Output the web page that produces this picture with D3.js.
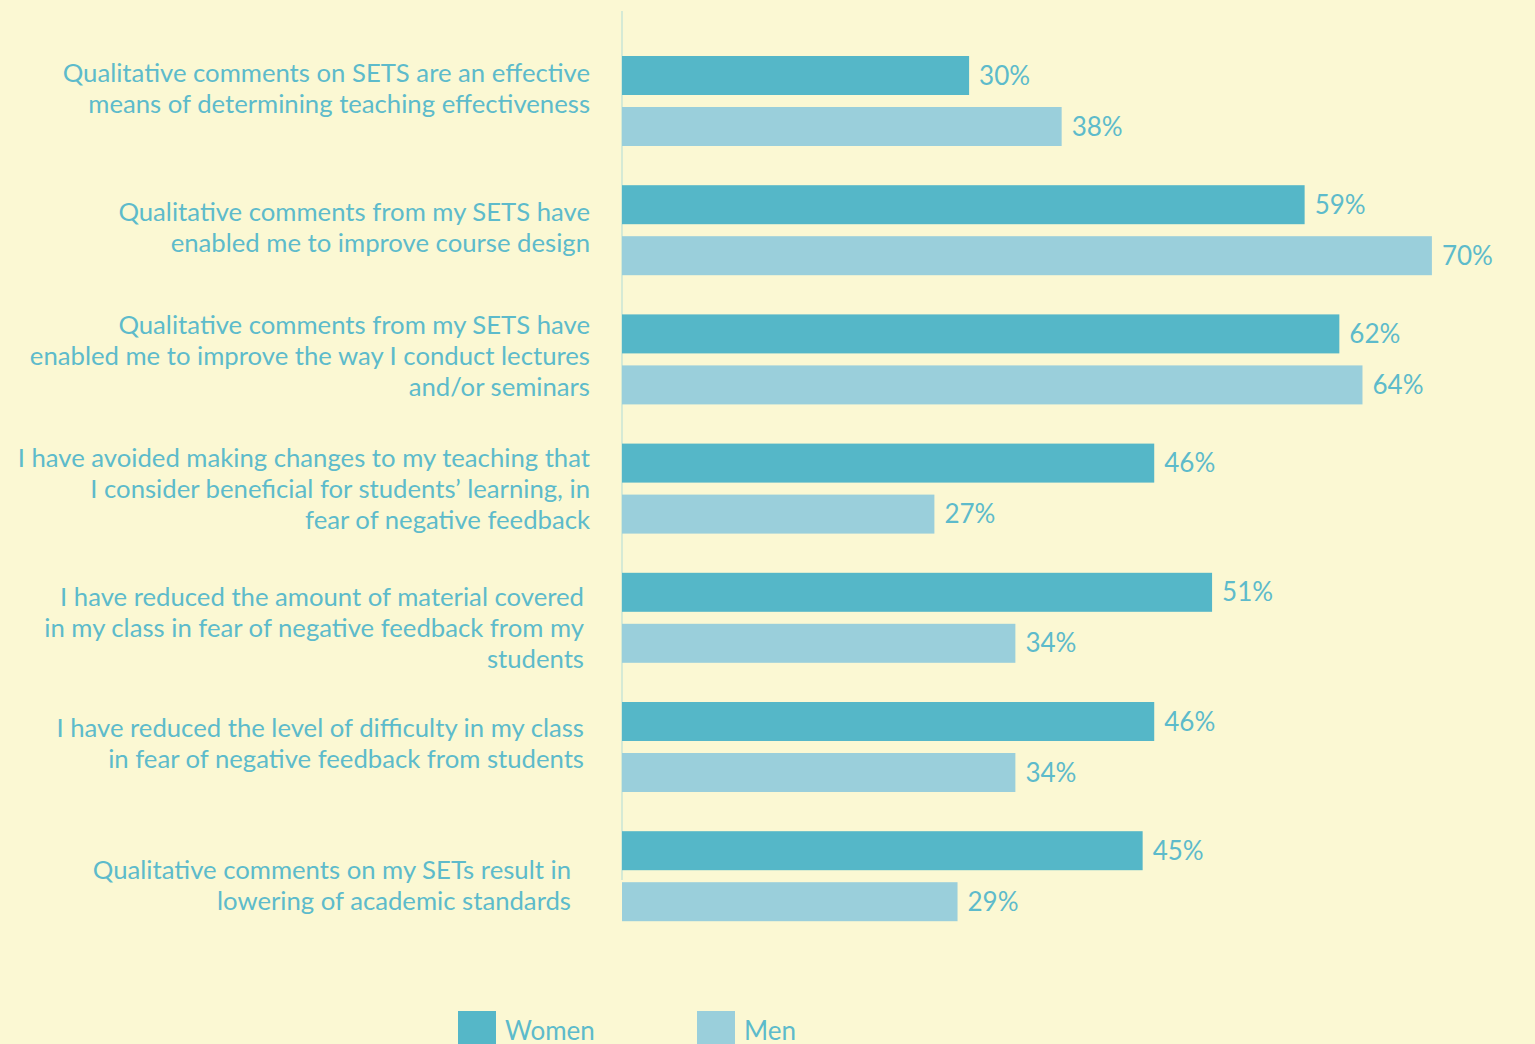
<!DOCTYPE html>
<html>
<head>
<meta charset="utf-8">
<script src="https://cdn.jsdelivr.net/npm/d3@7"></script>
<style>
  html, body { margin: 0; padding: 0; background: #FBF8D3; overflow: hidden; }
  svg { display: block; }
  text { font-family: Lato, "Open Sans", sans-serif; fill: #5DBBCB; }
</style>
</head>
<body>
<svg id="chart" width="1535" height="1044"></svg>
<script>
// Survey statements (one per group, split into display lines)
const categories = [
  ["Qualitative comments on SETS are an effective", "means of determining teaching effectiveness"],
  ["Qualitative comments from my SETS have", "enabled me to improve course design"],
  ["Qualitative comments from my SETS have", "enabled me to improve the way I conduct lectures", "and/or seminars"],
  ["I have avoided making changes to my teaching that", "I consider beneficial for students\u2019 learning, in", "fear of negative feedback"],
  ["I have reduced the amount of material covered", "in my class in fear of negative feedback from my", "students"],
  ["I have reduced the level of difficulty in my class", "in fear of negative feedback from students"],
  ["Qualitative comments on my SETs result in", "lowering of academic standards"]
];
const seriesNames = ["Women", "Men"];
const women = [30, 59, 62, 46, 51, 46, 45];
const men = [38, 70, 64, 27, 34, 34, 29];

// Small per-label nudges for the left-hand statement text [dx, dy]
const labelNudge = [[0, -13], [0, -3], [0, -3], [0, 0], [-6, 10], [-6, -4], [-19, 9]];

const colors = { Women: "#55B7C8", Men: "#9ACFDB" };

const svg = d3.select("#chart");
const x0 = 622;
const x = d3.scaleLinear().domain([0, 100]).range([x0, x0 + 1157]);
const y = d3.scaleBand().domain(d3.range(categories.length)).range([56, 56 + 129.2 * 7]).paddingInner(0).paddingOuter(0);
const barH = 39;
const barGap = 51;

// vertical baseline axis
svg.append("line")
  .attr("x1", x0).attr("x2", x0)
  .attr("y1", 11).attr("y2", 880)
  .attr("stroke", "#C8E6D6").attr("stroke-width", 1.5);

const rows = categories.map((c, i) => ({ i, lines: c, values: [
  { key: "Women", v: women[i] }, { key: "Men", v: men[i] }
]}));

const g = svg.selectAll("g.group").data(rows).join("g")
  .attr("class", "group")
  .attr("transform", d => `translate(0,${y(d.i)})`);

g.selectAll("rect").data(d => d.values).join("rect")
  .attr("x", x(0))
  .attr("y", (d, j) => j * barGap)
  .attr("width", d => x(d.v) - x(0))
  .attr("height", barH)
  .attr("fill", d => colors[d.key]);

g.selectAll("text.val").data(d => d.values).join("text")
  .attr("class", "val")
  .attr("x", d => x(d.v) + 10)
  .attr("y", (d, j) => j * barGap + barH / 2 + 9)
  .attr("font-size", 26)
  .text(d => d.v + "%");

// statement labels, right-aligned, centred on each group
const lineH = 31;
g.each(function(d) {
  const n = d.lines.length;
  const center = (barGap + barH) / 2 + labelNudge[d.i][1];
  const t = d3.select(this).append("text")
    .attr("text-anchor", "end")
    .attr("font-size", 25.7)
    .attr("transform", `translate(${590 + labelNudge[d.i][0]},${center - (n - 1) * lineH / 2 + 9})`);
  t.selectAll("tspan").data(d.lines).join("tspan")
    .attr("x", 0)
    .attr("dy", (l, k) => k === 0 ? 0 : lineH)
    .text(l => l);
});

// legend along the bottom edge
const legendX = [458, 697];
const lg = svg.selectAll("g.legend").data(seriesNames).join("g")
  .attr("class", "legend")
  .attr("transform", (d, i) => `translate(${legendX[i]},1011)`);
lg.append("rect").attr("width", 38).attr("height", 38).attr("fill", d => colors[d]);
lg.append("text").attr("x", 47).attr("y", 29).attr("font-size", 26).text(d => d);
</script>
</body>
</html>
